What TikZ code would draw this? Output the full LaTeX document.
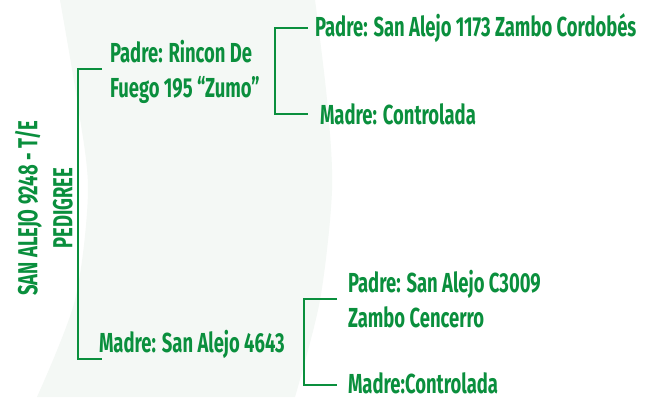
\documentclass[tikz,border=0pt]{standalone}
\usepackage{fontspec}
\setmainfont{Fira Sans}[FakeStretch=0.67]
\definecolor{pgreen}{HTML}{0A8F3D}
\definecolor{pshade}{HTML}{F4F8F5}
\begin{document}
\begin{tikzpicture}[x=1pt,y=-1pt,
  lbl/.style={anchor=base west,inner sep=0pt,outer sep=0pt,text=pgreen,font=\fontsize{27.5}{35}\selectfont\bfseries,align=left},
  brk/.style={draw=pgreen,line width=2.5pt}]
\useasboundingbox (0,0) rectangle (645,397);
\fill[white] (0,0) rectangle (645,397);
\fill[pshade] plot[smooth] coordinates {(60,0) (77,100) (88,190) (75,300) (37,397)}
  -- plot[smooth] coordinates {(295,397) (320,300) (332,190) (327,100) (315,0)} -- cycle;
\node[lbl,rotate=90,anchor=center,align=center] (root) at (44,208) {SAN ALEJO 9248 - T/E\\PEDIGREE};
\node[lbl] (p) at (110,97) {Padre: Rincon De\\Fuego 195 “Zumo”};
\node[lbl] (m) at (99,352) {Madre: San Alejo 4643};
\node[lbl] (pp) at (315,36) {Padre: San Alejo 1173 Zambo Cordobés};
\node[lbl] (pm) at (320,124) {Madre: Controlada};
\node[lbl] (mp) at (348,327) {Padre: San Alejo C3009\\Zambo Cencerro};
\node[lbl] (mm) at (348,393) {Madre:Controlada};
\coordinate (b1a) at (102,69); \coordinate (b1b) at (102,359);
\coordinate (b2a) at (308,28); \coordinate (b2b) at (308,114);
\coordinate (b3a) at (337,299); \coordinate (b3b) at (337,385);
\draw[brk] (b1a) -- (78,69) -- (78,359) -- (b1b);
\draw[brk] (b2a) -- (275,28) -- (275,114) -- (b2b);
\draw[brk] (b3a) -- (304,299) -- (304,385) -- (b3b);
\end{tikzpicture}
\end{document}
